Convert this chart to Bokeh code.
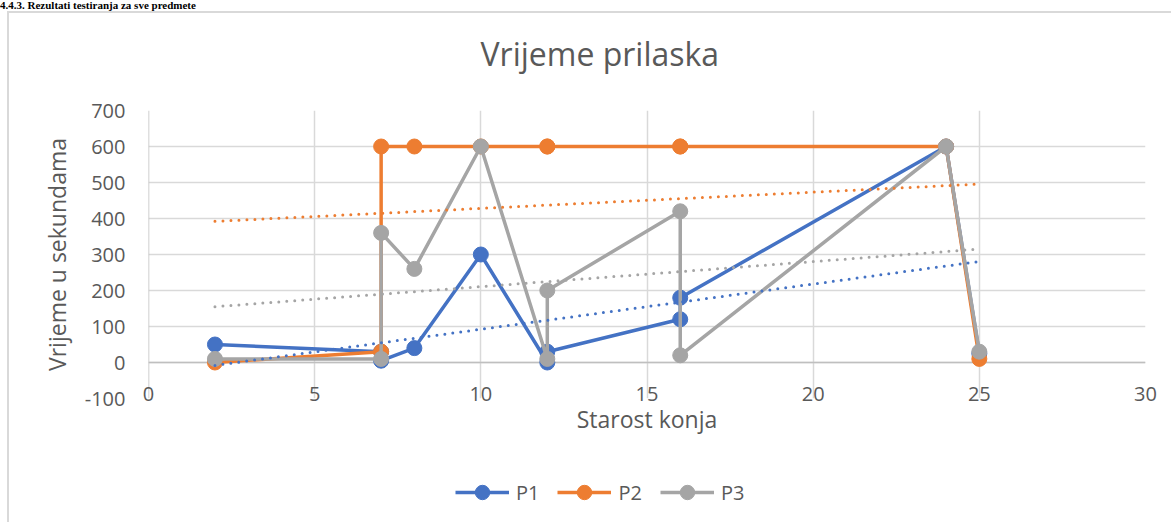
import numpy as np
from bokeh.plotting import figure
from bokeh.layouts import column
from bokeh.models import (Range1d, Span, Legend, LegendItem, FixedTicker,
                          Title, NumeralTickFormatter, Div)
from bokeh.embed import file_html
from bokeh.resources import INLINE

# ---------------- data ----------------
ages = [2, 7, 7, 8, 10, 12, 12, 16, 16, 24, 25]
p1 = [50, 30, 5, 40, 300, 0, 30, 120, 180, 600, 25]
p2 = [0, 30, 600, 600, 600, 600, 600, 600, 600, 600, 10]
p3 = [10, 10, 360, 260, 600, 10, 200, 420, 20, 600, 30]
series_names = ["P1", "P2", "P3"]
x_ticks = [0, 5, 10, 15, 20, 25, 30]
y_ticks = [-100, 0, 100, 200, 300, 400, 500, 600, 700]
chart_title = "Vrijeme prilaska"
x_title = "Starost konja"
y_title = "Vrijeme u sekundama"
heading = "4.4.3. Rezultati testiranja za sve predmete"

# ---------------- style ----------------
colors = ["#4472C4", "#ED7D31", "#A5A5A5"]
FONT = "Open Sans"
TXT = "#595959"
GRID = "#d9d9d9"
BORDER = "2px solid #d9d9d9"

p = figure(frame_width=995, frame_height=286,
           x_range=Range1d(x_ticks[0], x_ticks[-1]),
           y_range=Range1d(y_ticks[0], y_ticks[-1]),
           output_backend="svg", toolbar_location=None,
           min_border_left=139, min_border_right=28,
           min_border_top=97, min_border_bottom=74,
           margin=(0, 0, 0, 7),
           styles={"border-left": BORDER, "border-top": BORDER})
p.outline_line_color = None
p.background_fill_color = "white"
p.border_fill_color = "white"

# grid
p.xgrid.ticker = FixedTicker(ticks=x_ticks)
p.ygrid.ticker = FixedTicker(ticks=y_ticks)
for g in (p.xgrid, p.ygrid):
    g.grid_line_color = GRID
    g.grid_line_width = 1.5

# axes
p.xaxis.ticker = FixedTicker(ticks=x_ticks)
p.yaxis.ticker = FixedTicker(ticks=y_ticks)
p.yaxis.formatter = NumeralTickFormatter(format="0")
for ax in (p.xaxis, p.yaxis):
    ax.axis_line_color = None
    ax.major_tick_line_color = None
    ax.minor_tick_line_color = None
    ax.major_tick_in = 0
    ax.major_tick_out = 0
    ax.major_label_text_font = FONT
    ax.major_label_text_font_size = "20px"
    ax.major_label_text_color = TXT
    ax.axis_label_text_font = FONT
    ax.axis_label_text_font_size = "23px"
    ax.axis_label_text_font_style = "normal"
    ax.axis_label_text_color = TXT
p.xaxis.major_label_standoff = -12
p.yaxis.major_label_standoff = 23
p.xaxis.axis_label = x_title
p.yaxis.axis_label = y_title
p.xaxis.axis_label_standoff = -1
p.yaxis.axis_label_standoff = 9

p.add_layout(Span(location=0, dimension="width", line_color="#bfbfbf",
                  line_width=1.5, level="underlay"))
p.add_layout(Span(location=0, dimension="height", line_color="#bfbfbf",
                  line_width=1.5, level="underlay"))

# series
for ys, c in zip([p1, p2, p3], colors):
    p.line(ages, ys, line_color=c, line_width=3.5)
    p.scatter(ages, ys, size=15, fill_color=c, line_color=c)

# linear trendlines
for ys, c in zip([p1, p2, p3], colors):
    k, b = np.polyfit(ages, ys, 1)
    xs = [min(ages), max(ages)]
    p.line(xs, [k * x + b for x in xs], line_color=c, line_width=3,
           line_dash="0 8", line_cap="round")

# spacer between frame and chart title, then the chart title
p.add_layout(Title(text=" ", standoff=33, text_font_size="1px"), "above")
p.add_layout(Title(text=chart_title, align="left", offset=332, standoff=0,
                   text_font=FONT, text_font_size="32px",
                   text_font_style="normal", text_color=TXT), "above")

# legend strip (separate small figure so the legend is not clipped)
lf = figure(width=1162, height=52, x_axis_type=None, y_axis_type=None,
            output_backend="svg", toolbar_location=None,
            min_border_left=0, min_border_right=0,
            min_border_top=0, min_border_bottom=0,
            margin=(0, 0, 0, 7), styles={"border-left": BORDER})
lf.outline_line_color = None
items = []
for ys, name, c in zip([p1, p2, p3], series_names, colors):
    rl = lf.line(ages, ys, line_color=c, line_width=3.5, visible=False)
    rs = lf.scatter(ages, ys, size=15, fill_color=c, line_color=c,
                    visible=False)
    items.append(LegendItem(label=name, renderers=[rl, rs]))
legend = Legend(items=items, location=(307, 12), orientation="horizontal",
                glyph_width=54, glyph_height=36, label_standoff=7, spacing=18,
                padding=0, margin=0, border_line_color=None,
                background_fill_alpha=0, inactive_fill_alpha=0,
                label_text_font=FONT, label_text_font_size="20px",
                label_text_color=TXT)
lf.add_layout(legend)

head = Div(text=heading, width=1171, height=11, margin=0,
           styles={"font-family": "Liberation Serif", "font-weight": "bold",
                   "font-size": "11px", "line-height": "11px",
                   "color": "black", "overflow": "hidden"})

layout = column(head, p, lf, spacing=0)
open("out.html", "w").write(file_html(layout, INLINE))
